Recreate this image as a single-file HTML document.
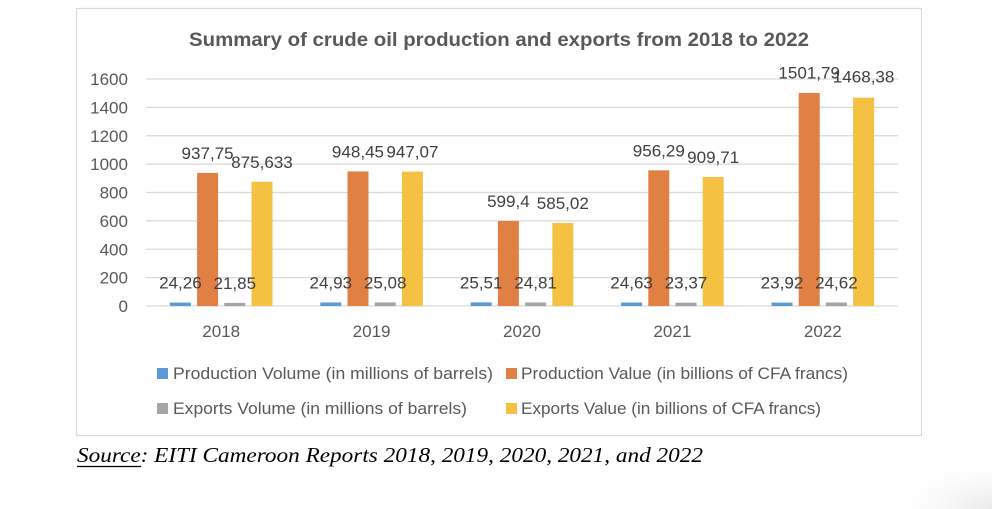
<!DOCTYPE html>
<html><head><meta charset="utf-8"><style>
html,body{margin:0;padding:0;background:#fff;width:992px;height:509px;overflow:hidden;}
svg{display:block;}
</style></head><body>
<svg width="992" height="509" viewBox="0 0 992 509" xmlns="http://www.w3.org/2000/svg">
<defs>
<radialGradient id="sh" cx="1" cy="1" r="1">
<stop offset="0" stop-color="#e8e8e8"/>
<stop offset="1" stop-color="#ffffff" stop-opacity="0"/>
</radialGradient>
</defs>
<rect width="992" height="509" fill="#fff"/>
<rect x="880" y="455" width="112" height="54" fill="url(#sh)"/>
<rect x="76.5" y="8.5" width="845" height="427" fill="#fff" stroke="#d9d9d9" stroke-width="1.2"/>

<text x="189" y="46" font-family="Liberation Sans, sans-serif" font-weight="bold" font-size="19" fill="#595959" textLength="620" lengthAdjust="spacingAndGlyphs">Summary of crude oil production and exports from 2018 to 2022</text>

<g stroke="#d9d9d9" stroke-width="1.2">
<line x1="146" x2="898" y1="306" y2="306"/>
<line x1="146" x2="898" y1="277.6" y2="277.6"/>
<line x1="146" x2="898" y1="249.25" y2="249.25"/>
<line x1="146" x2="898" y1="220.9" y2="220.9"/>
<line x1="146" x2="898" y1="192.5" y2="192.5"/>
<line x1="146" x2="898" y1="164.1" y2="164.1"/>
<line x1="146" x2="898" y1="135.75" y2="135.75"/>
<line x1="146" x2="898" y1="107.4" y2="107.4"/>
<line x1="146" x2="898" y1="79" y2="79"/>
</g>

<g font-family="Liberation Sans, sans-serif" font-size="16.5" fill="#595959" text-anchor="end">
<text x="128" y="312" textLength="9.5" lengthAdjust="spacingAndGlyphs">0</text>
<text x="128" y="283.6" textLength="28.4" lengthAdjust="spacingAndGlyphs">200</text>
<text x="128" y="255.25" textLength="28.4" lengthAdjust="spacingAndGlyphs">400</text>
<text x="128" y="226.9" textLength="28.4" lengthAdjust="spacingAndGlyphs">600</text>
<text x="128" y="198.5" textLength="28.4" lengthAdjust="spacingAndGlyphs">800</text>
<text x="128" y="170.1" textLength="37.9" lengthAdjust="spacingAndGlyphs">1000</text>
<text x="128" y="141.75" textLength="37.9" lengthAdjust="spacingAndGlyphs">1200</text>
<text x="128" y="113.4" textLength="37.9" lengthAdjust="spacingAndGlyphs">1400</text>
<text x="128" y="85" textLength="37.9" lengthAdjust="spacingAndGlyphs">1600</text>
</g>

<!-- bars -->
<g>
<rect x="169.9" y="302.56" width="21" height="3.44" fill="#5b9bd5"/>
<rect x="197.1" y="172.96" width="21" height="133.04" fill="#e08143"/>
<rect x="224.3" y="302.9" width="21" height="3.1" fill="#a5a5a5"/>
<rect x="251.5" y="181.77" width="21" height="124.23" fill="#f4c143"/>

<rect x="320.3" y="302.46" width="21" height="3.54" fill="#5b9bd5"/>
<rect x="347.5" y="171.44" width="21" height="134.56" fill="#e08143"/>
<rect x="374.7" y="302.44" width="21" height="3.56" fill="#a5a5a5"/>
<rect x="401.9" y="171.63" width="21" height="134.37" fill="#f4c143"/>

<rect x="470.7" y="302.38" width="21" height="3.62" fill="#5b9bd5"/>
<rect x="497.9" y="220.96" width="21" height="85.04" fill="#e08143"/>
<rect x="525.1" y="302.48" width="21" height="3.52" fill="#a5a5a5"/>
<rect x="552.3" y="223.0" width="21" height="83.0" fill="#f4c143"/>

<rect x="621.1" y="302.51" width="21" height="3.49" fill="#5b9bd5"/>
<rect x="648.3" y="170.33" width="21" height="135.67" fill="#e08143"/>
<rect x="675.5" y="302.68" width="21" height="3.32" fill="#a5a5a5"/>
<rect x="702.7" y="176.94" width="21" height="129.06" fill="#f4c143"/>

<rect x="771.5" y="302.61" width="21" height="3.39" fill="#5b9bd5"/>
<rect x="798.7" y="92.93" width="21" height="213.07" fill="#e08143"/>
<rect x="825.9" y="302.51" width="21" height="3.49" fill="#a5a5a5"/>
<rect x="853.1" y="97.67" width="21" height="208.33" fill="#f4c143"/>
</g>

<!-- data labels -->
<g font-family="Liberation Sans, sans-serif" font-size="16.5" fill="#404040" text-anchor="middle">
<text x="180.4" y="288.5" textLength="42.6" lengthAdjust="spacingAndGlyphs">24,26</text>
<text x="207.6" y="159" textLength="52.1" lengthAdjust="spacingAndGlyphs">937,75</text>
<text x="234.8" y="288.9" textLength="42.6" lengthAdjust="spacingAndGlyphs">21,85</text>
<text x="262.0" y="167.8" textLength="61.6" lengthAdjust="spacingAndGlyphs">875,633</text>

<text x="330.8" y="288.5" textLength="42.6" lengthAdjust="spacingAndGlyphs">24,93</text>
<text x="358.0" y="157.4" textLength="52.1" lengthAdjust="spacingAndGlyphs">948,45</text>
<text x="385.2" y="288.4" textLength="42.6" lengthAdjust="spacingAndGlyphs">25,08</text>
<text x="412.4" y="157.6" textLength="52.1" lengthAdjust="spacingAndGlyphs">947,07</text>

<text x="481.2" y="288.4" textLength="42.6" lengthAdjust="spacingAndGlyphs">25,51</text>
<text x="508.4" y="207" textLength="42.6" lengthAdjust="spacingAndGlyphs">599,4</text>
<text x="535.6" y="288.5" textLength="42.6" lengthAdjust="spacingAndGlyphs">24,81</text>
<text x="562.8" y="209" textLength="52.1" lengthAdjust="spacingAndGlyphs">585,02</text>

<text x="631.6" y="288.5" textLength="42.6" lengthAdjust="spacingAndGlyphs">24,63</text>
<text x="658.8" y="156.3" textLength="52.1" lengthAdjust="spacingAndGlyphs">956,29</text>
<text x="686.0" y="288.7" textLength="42.6" lengthAdjust="spacingAndGlyphs">23,37</text>
<text x="713.2" y="162.9" textLength="52.1" lengthAdjust="spacingAndGlyphs">909,71</text>

<text x="782.0" y="288.6" textLength="42.6" lengthAdjust="spacingAndGlyphs">23,92</text>
<text x="809.2" y="78.5" textLength="61.6" lengthAdjust="spacingAndGlyphs">1501,79</text>
<text x="836.4" y="288.5" textLength="42.6" lengthAdjust="spacingAndGlyphs">24,62</text>
<text x="863.6" y="82.6" textLength="61.6" lengthAdjust="spacingAndGlyphs">1468,38</text>
</g>

<!-- category labels -->
<g font-family="Liberation Sans, sans-serif" font-size="16.5" fill="#595959" text-anchor="middle">
<text x="221.2" y="337" textLength="37.9" lengthAdjust="spacingAndGlyphs">2018</text>
<text x="371.6" y="337" textLength="37.9" lengthAdjust="spacingAndGlyphs">2019</text>
<text x="522.0" y="337" textLength="37.9" lengthAdjust="spacingAndGlyphs">2020</text>
<text x="672.4" y="337" textLength="37.9" lengthAdjust="spacingAndGlyphs">2021</text>
<text x="822.8" y="337" textLength="37.9" lengthAdjust="spacingAndGlyphs">2022</text>
</g>

<!-- legend -->
<rect x="157" y="368" width="11" height="11" fill="#5b9bd5"/>
<rect x="506" y="368" width="11" height="11" fill="#e08143"/>
<rect x="157" y="403" width="11" height="11" fill="#a5a5a5"/>
<rect x="506" y="403" width="11" height="11" fill="#f4c143"/>
<g font-family="Liberation Sans, sans-serif" font-size="16.5" fill="#595959">
<text x="173" y="379" textLength="320" lengthAdjust="spacingAndGlyphs">Production Volume (in millions of barrels)</text>
<text x="521" y="379" textLength="327" lengthAdjust="spacingAndGlyphs">Production Value (in billions of CFA francs)</text>
<text x="173" y="414" textLength="294" lengthAdjust="spacingAndGlyphs">Exports Volume (in millions of barrels)</text>
<text x="521" y="414" textLength="300" lengthAdjust="spacingAndGlyphs">Exports Value (in billions of CFA francs)</text>
</g>

<!-- source -->
<text x="77" y="462" font-family="Liberation Serif, serif" font-style="italic" font-size="21" fill="#000" textLength="626" lengthAdjust="spacingAndGlyphs">Source: EITI Cameroon Reports 2018, 2019, 2020, 2021, and 2022</text>
<line x1="77" x2="141" y1="466.5" y2="466.5" stroke="#000" stroke-width="1.3"/>
</svg>
</body></html>
